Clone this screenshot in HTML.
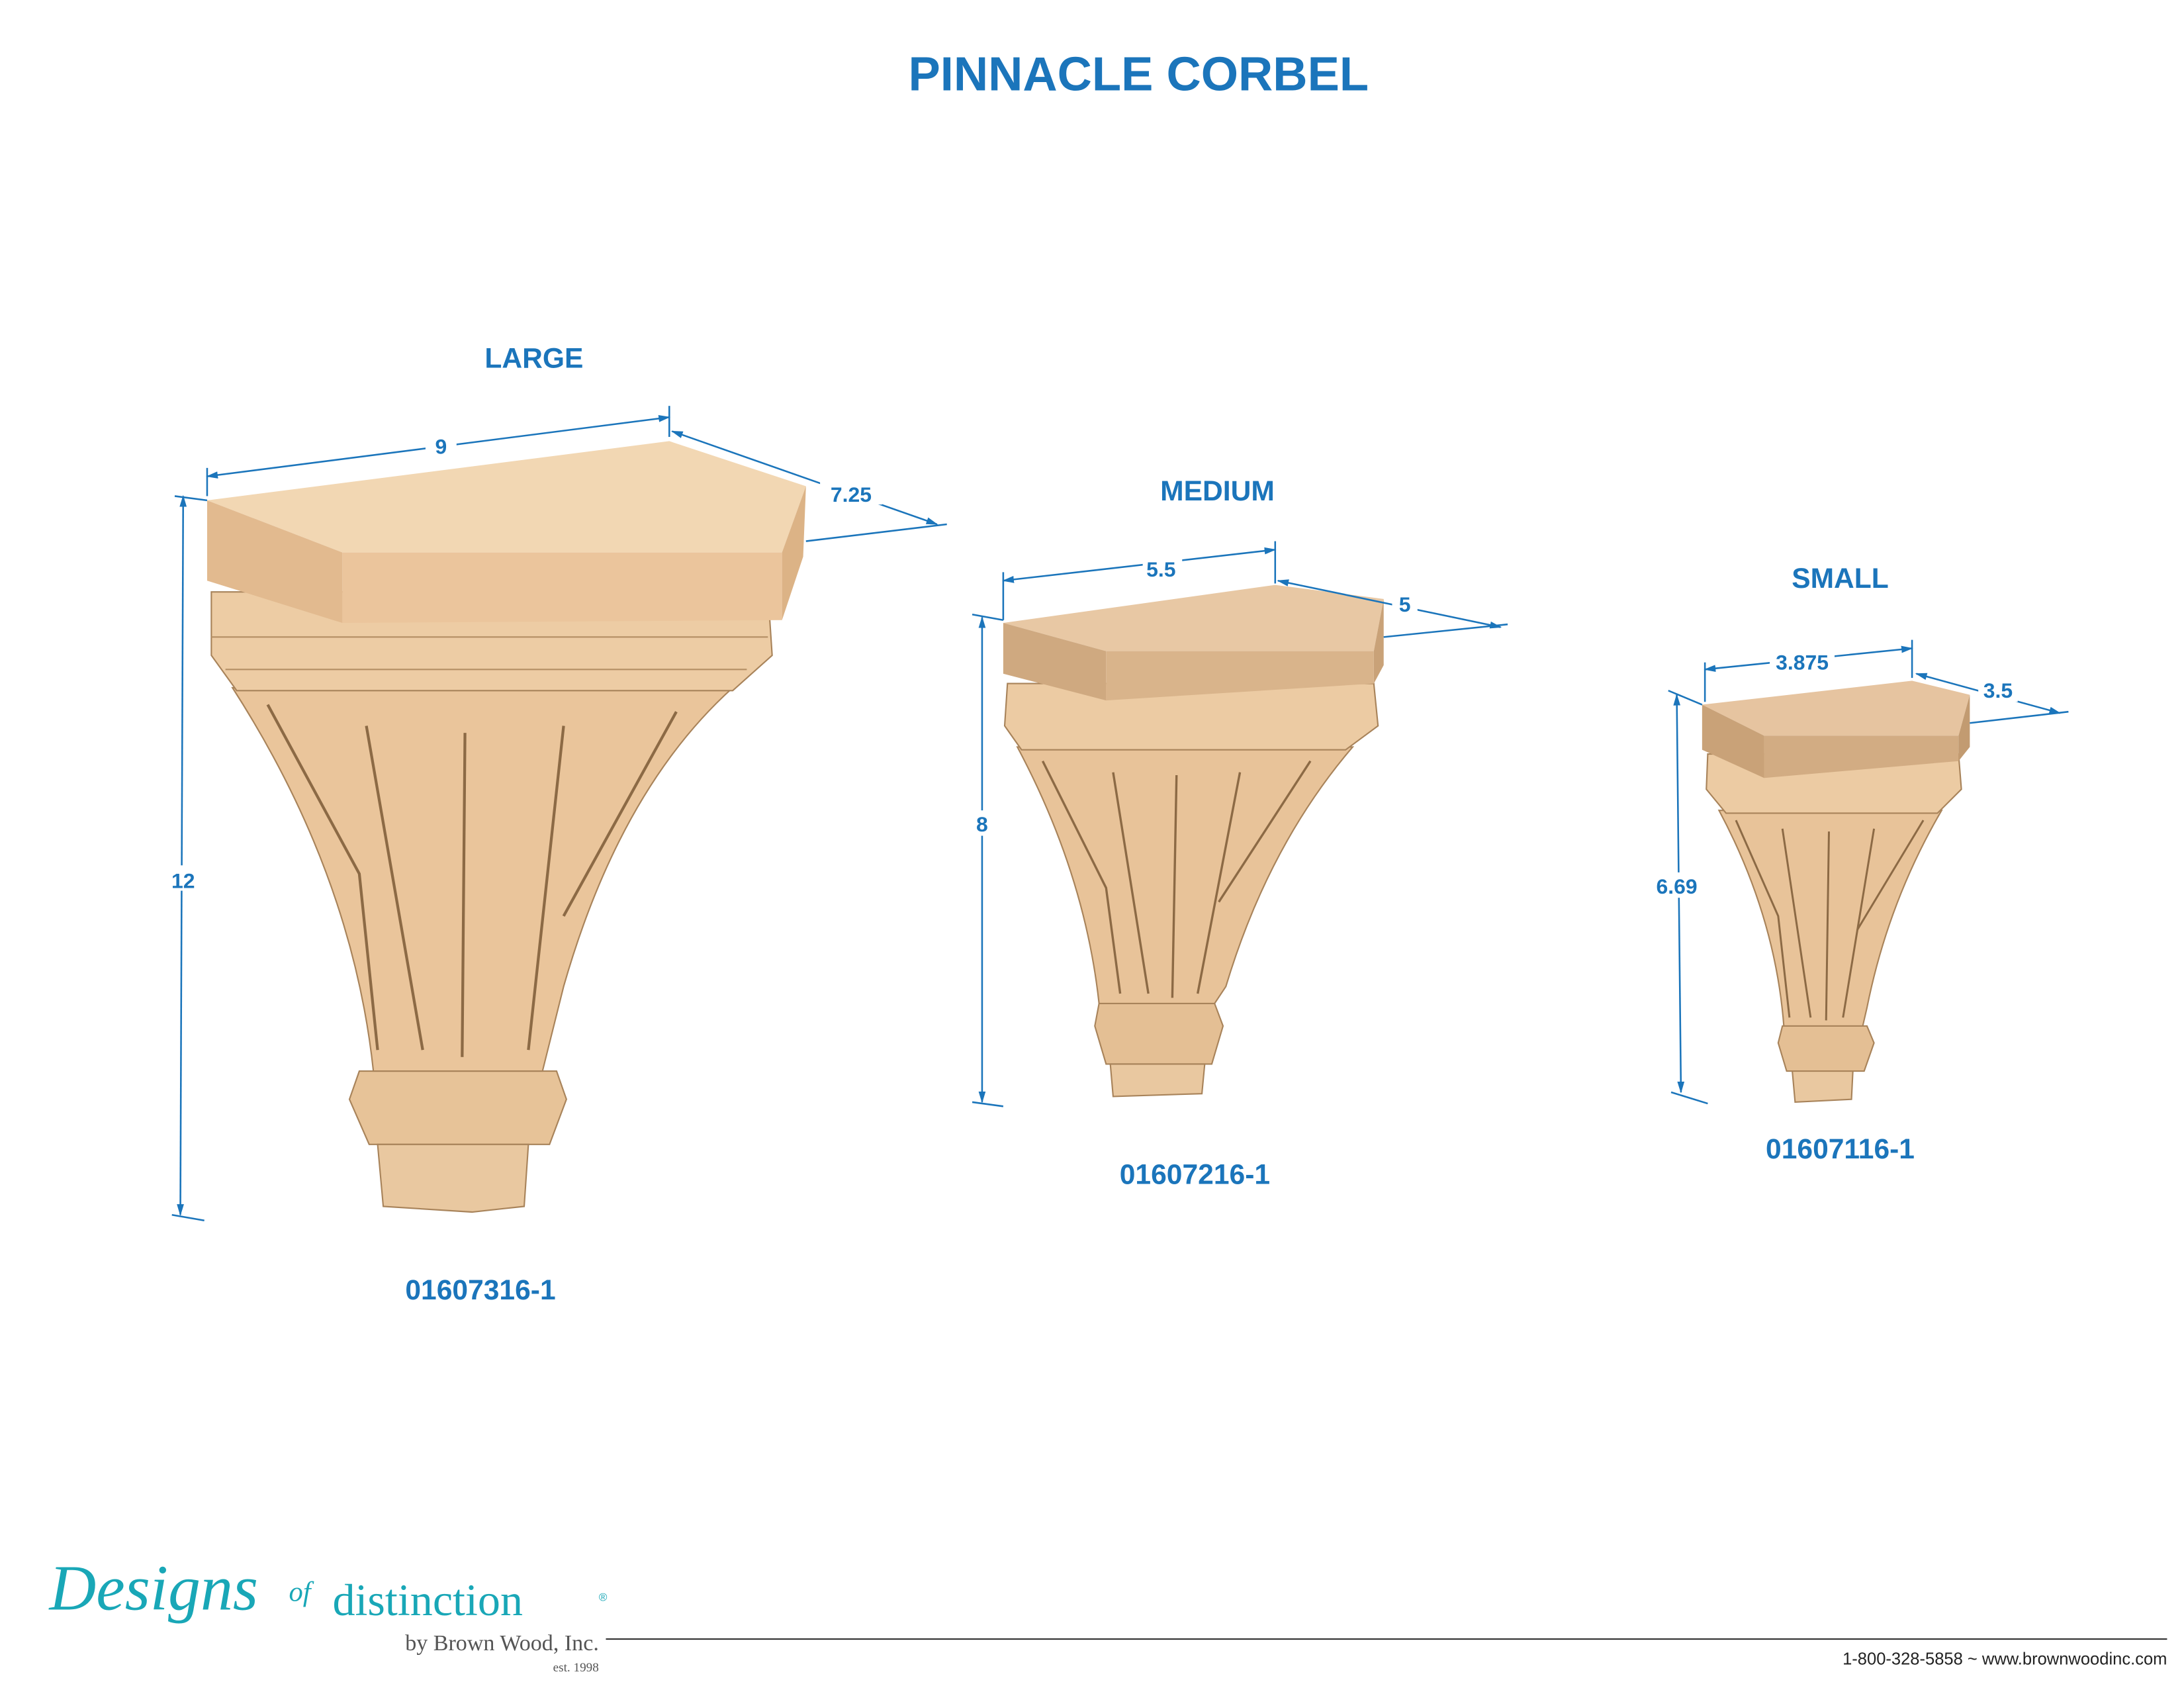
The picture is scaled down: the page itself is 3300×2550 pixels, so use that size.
<!DOCTYPE html>
<html><head><meta charset="utf-8"><style>
html,body{margin:0;padding:0;background:#fff;}
svg{display:block;}
text{font-family:"Liberation Sans",Arial,sans-serif;}
text.serif{font-family:"Liberation Serif","DejaVu Serif",serif;}
</style></head><body>
<svg width="3300" height="2550" viewBox="0 0 1550 1197.7" xmlns="http://www.w3.org/2000/svg">
<defs>
<marker id="a" viewBox="0 0 10 10" refX="9" refY="5" markerWidth="7" markerHeight="7" orient="auto-start-reverse"><path d="M0,2 L10,5 L0,8 z" fill="#1b75bb"/></marker>
</defs>
<rect width="1550" height="1198" fill="#fff"/>
<text x="808" y="64" font-size="34" font-weight="bold" fill="#1b75bb" text-anchor="middle">PINNACLE CORBEL</text>

<!-- LARGE -->
<text x="379" y="261" font-size="20" font-weight="bold" fill="#1b75bb" text-anchor="middle">LARGE</text>
<g>
<polygon points="255,760 395,760 402,780 390,812 262,812 248,780" fill="#e7c398" stroke="#a8835a" stroke-width="1"/>
<polygon points="268,812 375,812 372,856 335,860 272,856" fill="#e9c8a0" stroke="#a8835a" stroke-width="1"/>
<path d="M165,488 L520,488 Q440,560 400,700 L385,760 L265,760 Q250,620 165,488 Z" fill="#eac59b" stroke="#a8835a" stroke-width="1"/>
<path d="M190,500 L255,620 L268,745 M260,515 L300,745 M330,520 L328,750 M400,515 L375,745 M480,505 L400,650" stroke="#8c6a45" stroke-width="2" fill="none"/>
<polygon points="150,420 545,420 548,465 520,490 168,490 150,465" fill="#edcca4" stroke="#a8835a" stroke-width="1"/>
<line x1="150" y1="452" x2="545" y2="452" stroke="#b48e64" stroke-width="1"/>
<line x1="160" y1="475" x2="530" y2="475" stroke="#b48e64" stroke-width="1"/>
<polygon points="147,355 475,313 572,345 555,392 243,392" fill="#f2d7b3"/>
<polygon points="147,355 243,392 243,442 147,412" fill="#e2ba8f"/>
<polygon points="243,392 555,392 555,440 243,442" fill="#ebc59c"/>
<polygon points="555,392 572,345 570,395 555,440" fill="#dcb386"/>
</g>
<g stroke="#1b75bb" stroke-width="1.2" fill="none">
<line x1="147" y1="338" x2="475" y2="296" marker-start="url(#a)" marker-end="url(#a)"/>
<line x1="147" y1="332" x2="147" y2="352"/><line x1="475" y1="288" x2="475" y2="310"/>
<line x1="477" y1="306" x2="665" y2="372" marker-start="url(#a)" marker-end="url(#a)"/>
<line x1="572" y1="384" x2="672" y2="372"/>
<line x1="130" y1="352" x2="128" y2="862" marker-start="url(#a)" marker-end="url(#a)"/>
<line x1="124" y1="352" x2="147" y2="355"/><line x1="122" y1="862" x2="145" y2="866"/>
</g>
<rect x="302" y="306" width="22" height="18" fill="#fff"/><text x="313" y="322" font-size="15" font-weight="bold" fill="#1b75bb" text-anchor="middle">9</text>
<rect x="582" y="340" width="44" height="18" fill="#fff"/><text x="604" y="356" font-size="15" font-weight="bold" fill="#1b75bb" text-anchor="middle">7.25</text>
<rect x="116" y="614" width="28" height="18" fill="#fff"/><text x="130" y="630" font-size="15" font-weight="bold" fill="#1b75bb" text-anchor="middle">12</text>
<text x="341" y="922" font-size="20" font-weight="bold" fill="#1b75bb" text-anchor="middle">01607316-1</text>

<!-- MEDIUM -->
<text x="864" y="355" font-size="20" font-weight="bold" fill="#1b75bb" text-anchor="middle">MEDIUM</text>
<g>
<polygon points="780,712 862,712 868,728 860,755 785,755 777,728" fill="#e4bf94" stroke="#a8835a" stroke-width="1"/>
<polygon points="788,755 855,755 853,776 790,778" fill="#e9c8a0" stroke="#a8835a" stroke-width="1"/>
<path d="M722,530 L960,530 Q900,600 870,700 L862,712 L780,712 Q770,620 722,530 Z" fill="#e8c399" stroke="#a8835a" stroke-width="1"/>
<path d="M740,540 L785,630 L795,705 M790,548 L815,705 M835,550 L832,708 M880,548 L850,705 M930,540 L865,640" stroke="#8c6a45" stroke-width="1.6" fill="none"/>
<polygon points="715,485 975,485 978,515 955,532 725,532 713,515" fill="#eccba3" stroke="#a8835a" stroke-width="1"/>
<polygon points="712,442 905,415 982,425 975,462 785,462" fill="#e8c8a4"/>
<polygon points="712,442 785,462 785,497 712,478" fill="#cfa980"/>
<polygon points="785,462 975,462 975,485 785,497" fill="#d9b48b"/>
<polygon points="975,462 982,425 982,472 975,485" fill="#c9a278"/>
</g>
<g stroke="#1b75bb" stroke-width="1.2" fill="none">
<line x1="712" y1="412" x2="905" y2="390" marker-start="url(#a)" marker-end="url(#a)"/>
<line x1="712" y1="406" x2="712" y2="440"/><line x1="905" y1="384" x2="905" y2="414"/>
<line x1="907" y1="412" x2="1065" y2="445" marker-start="url(#a)" marker-end="url(#a)"/>
<line x1="982" y1="452" x2="1070" y2="443"/>
<line x1="697" y1="438" x2="697" y2="782" marker-start="url(#a)" marker-end="url(#a)"/>
<line x1="690" y1="436" x2="712" y2="440"/><line x1="690" y1="782" x2="712" y2="785"/>
</g>
<rect x="811" y="394" width="28" height="18" fill="#fff"/><text x="824" y="409" font-size="15" font-weight="bold" fill="#1b75bb" text-anchor="middle">5.5</text>
<rect x="988" y="419" width="18" height="18" fill="#fff"/><text x="997" y="434" font-size="15" font-weight="bold" fill="#1b75bb" text-anchor="middle">5</text>
<rect x="689" y="575" width="16" height="18" fill="#fff"/><text x="697" y="590" font-size="15" font-weight="bold" fill="#1b75bb" text-anchor="middle">8</text>
<text x="848" y="840" font-size="20" font-weight="bold" fill="#1b75bb" text-anchor="middle">01607216-1</text>

<!-- SMALL -->
<text x="1306" y="417" font-size="20" font-weight="bold" fill="#1b75bb" text-anchor="middle">SMALL</text>
<g>
<polygon points="1265,728 1325,728 1330,740 1323,760 1268,760 1262,740" fill="#e4bf94" stroke="#a8835a" stroke-width="1"/>
<polygon points="1272,760 1315,760 1314,780 1274,782" fill="#e9c8a0" stroke="#a8835a" stroke-width="1"/>
<path d="M1220,575 L1378,575 Q1340,640 1325,715 L1322,728 L1266,728 Q1260,650 1220,575 Z" fill="#e8c399" stroke="#a8835a" stroke-width="1"/>
<path d="M1232,582 L1262,650 L1270,722 M1265,588 L1285,722 M1298,590 L1296,724 M1330,588 L1308,722 M1365,582 L1318,660" stroke="#8c6a45" stroke-width="1.4" fill="none"/>
<polygon points="1212,535 1390,535 1392,560 1375,577 1225,577 1211,560" fill="#eccba3" stroke="#a8835a" stroke-width="1"/>
<polygon points="1208,500 1357,483 1398,493 1390,522 1252,522" fill="#e6c4a0"/>
<polygon points="1208,500 1252,522 1252,552 1208,532" fill="#c9a278"/>
<polygon points="1252,522 1390,522 1390,540 1252,552" fill="#d2ac83"/>
<polygon points="1390,522 1398,493 1398,530 1390,540" fill="#c29b71"/>
</g>
<g stroke="#1b75bb" stroke-width="1.2" fill="none">
<line x1="1210" y1="475" x2="1357" y2="460" marker-start="url(#a)" marker-end="url(#a)"/>
<line x1="1210" y1="470" x2="1210" y2="498"/><line x1="1357" y1="454" x2="1357" y2="481"/>
<line x1="1360" y1="478" x2="1462" y2="506" marker-start="url(#a)" marker-end="url(#a)"/>
<line x1="1398" y1="513" x2="1468" y2="505"/>
<line x1="1190" y1="493" x2="1193" y2="775" marker-start="url(#a)" marker-end="url(#a)"/>
<line x1="1184" y1="490" x2="1208" y2="500"/><line x1="1186" y1="775" x2="1212" y2="783"/>
</g>
<rect x="1256" y="460" width="46" height="18" fill="#fff"/><text x="1279" y="475" font-size="15" font-weight="bold" fill="#1b75bb" text-anchor="middle">3.875</text>
<rect x="1404" y="480" width="28" height="18" fill="#fff"/><text x="1418" y="495" font-size="15" font-weight="bold" fill="#1b75bb" text-anchor="middle">3.5</text>
<rect x="1172" y="619" width="38" height="18" fill="#fff"/><text x="1190" y="634" font-size="15" font-weight="bold" fill="#1b75bb" text-anchor="middle">6.69</text>
<text x="1306" y="822" font-size="20" font-weight="bold" fill="#1b75bb" text-anchor="middle">01607116-1</text>

<!-- footer -->
<text class="serif" x="35" y="1142" style="font-style:italic" font-size="46" fill="#19a7b7">Designs</text>
<text class="serif" x="205" y="1136" style="font-style:italic" font-size="20" fill="#19a7b7">of</text>
<text class="serif" x="236" y="1146" font-size="32" fill="#19a7b7">distinction</text>
<text x="425" y="1136" font-size="8" fill="#19a7b7">®</text>
<text class="serif" x="425" y="1171" font-size="16" fill="#555" text-anchor="end">by Brown Wood, Inc.</text>
<text class="serif" x="425" y="1186" font-size="9" fill="#555" text-anchor="end">est. 1998</text>
<line x1="430" y1="1163" x2="1538" y2="1163" stroke="#333" stroke-width="1"/>
<text x="1538" y="1181" font-size="12" fill="#222" text-anchor="end">1-800-328-5858 ~ www.brownwoodinc.com</text>
</svg>
</body></html>
